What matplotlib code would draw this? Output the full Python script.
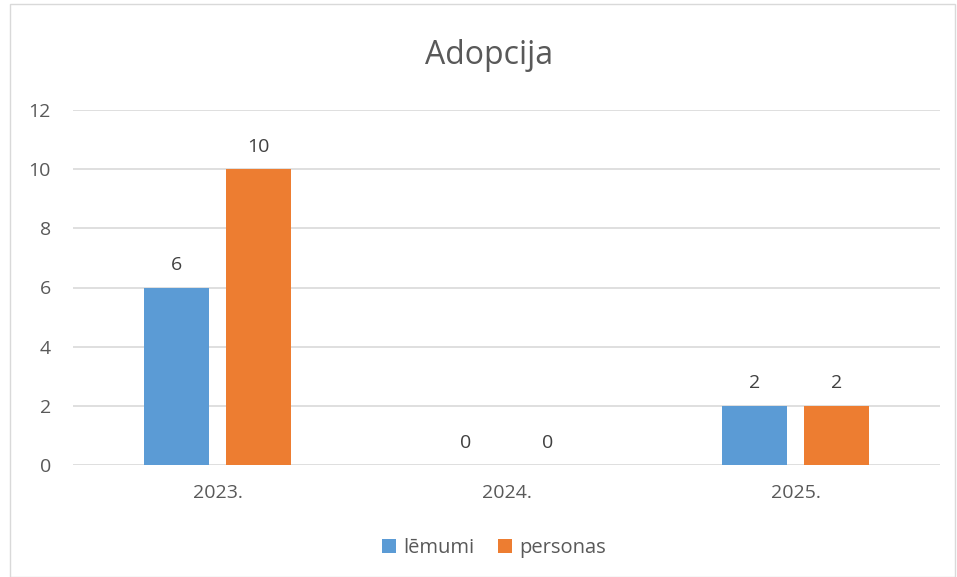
import matplotlib
matplotlib.use("Agg")
import matplotlib.pyplot as plt
from matplotlib.patches import Rectangle
import numpy as np

categories = ["2023.", "2024.", "2025."]
lemumi = [6, 0, 2]
personas = [10, 0, 2]
series_names = ["lēmumi", "personas"]
yticks = [0, 2, 4, 6, 8, 10, 12]

plt.rcParams['font.family'] = ['Open Sans', 'DejaVu Sans']
txt = '#595959'

fig = plt.figure(figsize=(9.57, 5.77), dpi=100)
fig.patches.append(Rectangle((10/957, 0), (955-10)/957, (577-4)/577, transform=fig.transFigure,
                             fill=False, edgecolor='#D9D9D9', linewidth=1))
ax = fig.add_axes([73/957, (577-465)/577, (940-73)/957, (465-110)/577])

x = np.arange(len(categories))
w = 0.224
off = 0.1427
b1 = ax.bar(x - off, lemumi, w, color='#5B9BD5', label=series_names[0], zorder=3)
b2 = ax.bar(x + off, personas, w, color='#ED7D31', label=series_names[1], zorder=3)

for bars, vals in ((b1, lemumi), (b2, personas)):
    for rect, v in zip(bars, vals):
        ax.annotate(str(v), (rect.get_x() + rect.get_width()/2, v), xytext=(0, 12.5),
                    textcoords='offset points', ha='center', va='baseline',
                    fontsize=14, color='#404040')

ax.set_xlim(-0.5, 2.5)
ax.set_ylim(0, 12)
ax.set_yticks(yticks)
ax.set_xticks(x)
ax.set_xticklabels(categories)
ax.tick_params(axis='y', length=0, pad=16, labelsize=14, labelcolor=txt)
ax.tick_params(axis='x', length=0, pad=14, labelsize=14, labelcolor=txt)
ax.grid(axis='y', color='#D9D9D9', linewidth=1.2, zorder=0)
for s in ax.spines.values():
    s.set_visible(False)

fig.text(489/957, 1 - 55/577, "Adopcija", ha='center', va='center', fontsize=23, color=txt)

leg = fig.legend(handles=[b1, b2], labels=series_names, loc='center',
                 bbox_to_anchor=(494/957, 1 - 548/577), ncol=2, frameon=False,
                 fontsize=14.5, handlelength=0.7, handleheight=0.7, handletextpad=0.35,
                 columnspacing=1.2)
for t in leg.get_texts():
    t.set_color(txt)

fig.savefig("out.png", dpi=100)
